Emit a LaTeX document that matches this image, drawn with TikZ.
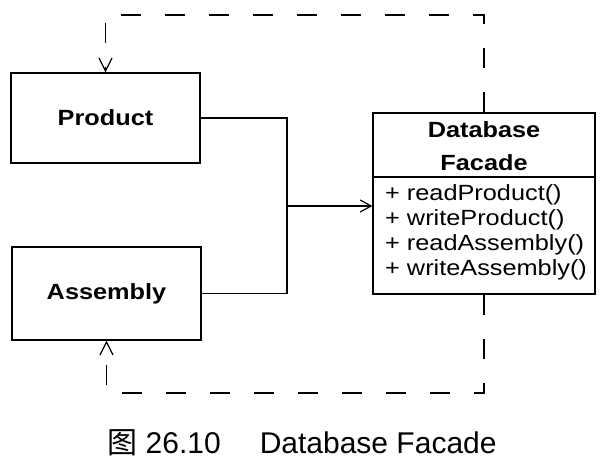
\documentclass[tikz,border=0pt]{standalone}
\usepackage{fontspec}
\setmainfont{Liberation Sans}
\newfontfamily\boxfont{Liberation Sans}[FakeStretch=1.15]
\newfontfamily\cjk{Noto Sans CJK SC}
\usetikzlibrary{arrows.meta}
\pgfdeclarelayer{edgelayer}
\pgfdeclarelayer{nodelayer}
\pgfsetlayers{edgelayer,nodelayer,main}
\tikzstyle{none}=[inner sep=0pt]
\tikzstyle{classbox}=[draw=black, line width=1.2pt, inner sep=0pt, font=\boxfont\bfseries\fontsize{22}{26}\selectfont]
\tikzstyle{classname}=[inner sep=0pt, align=center, font=\boxfont\bfseries\fontsize{22}{33}\selectfont]
\tikzstyle{operations}=[inner sep=0pt, align=left, anchor=west, font=\boxfont\fontsize{22}{25}\selectfont]
\tikzstyle{wire}=[draw=black, line width=1.2pt]
\tikzstyle{transition}=[-{Straight Barb[length=11pt,width=12pt]}, draw=black, line width=1.2pt]
\tikzstyle{dependency}=[-{Straight Barb[length=13pt,width=13pt]}, draw=black, line width=1.2pt, dash pattern=on 20pt off 24pt]

\begin{document}
\begin{tikzpicture}[x=1pt, y=-1pt]
	\useasboundingbox (0,0) rectangle (607,475);
	\begin{pgfonlayer}{nodelayer}
		\node [style=classbox, minimum width=189pt, minimum height=90pt] (product) at (105.5, 118) {Product};
		\node [style=classbox, minimum width=189pt, minimum height=93pt] (assembly) at (106.5, 293.5) {Assembly};
		\node [style=classbox, minimum width=222pt, minimum height=181pt] (facade) at (484, 203.5) {};
		\node [style=classname] (title) at (484, 146) {Database\\Facade};
		\node [style=operations] (ops) at (385, 232.5) {+ readProduct()\\+ writeProduct()\\+ readAssembly()\\+ writeAssembly()};
		\node [style=none, font=\fontsize{30}{34}\selectfont] (caption) at (302, 443) {{\cjk 图} 26.10\hspace{1.3em}Database Facade};
	\end{pgfonlayer}
	\coordinate (divider) at (484, 177);
	\coordinate (bus) at (287, 206);
	\coordinate (topright) at (484, 15);
	\coordinate (bottomright) at (484, 393);
	\begin{pgfonlayer}{edgelayer}
		\draw [style=wire] (facade.west |- divider) -- (facade.east |- divider);
		\draw [style=wire] (product.east) -| (bus) |- (assembly.east);
		\draw [style=transition] (bus) -- (bus -| facade.west);
		\draw [style=dependency] (facade.north) -- (topright) -| (product.north);
		\draw [style=dependency] (facade.south) -- (bottomright) -| (assembly.south);
	\end{pgfonlayer}
\end{tikzpicture}
\end{document}
